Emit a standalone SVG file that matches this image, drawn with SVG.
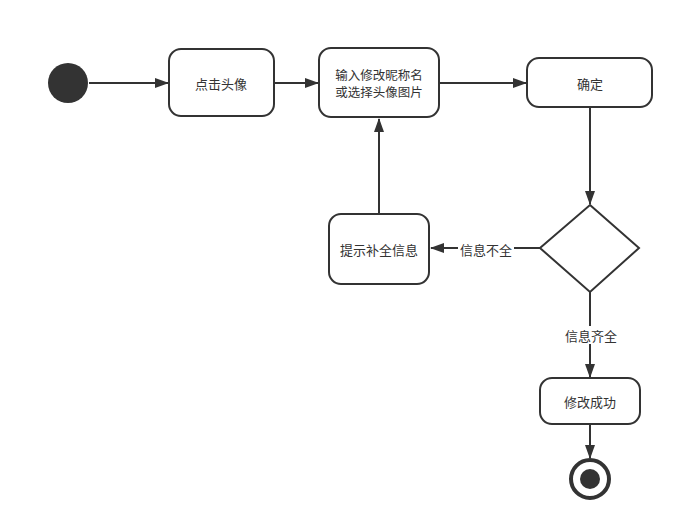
<svg xmlns="http://www.w3.org/2000/svg" width="684" height="530" viewBox="0 0 684 530">
<style>
.n{fill:#fff;stroke:#333;stroke-width:2}
.t{font-family:"Noto Sans CJK SC","Liberation Sans",sans-serif;font-size:13px;fill:#333;text-anchor:middle;dominant-baseline:central}
.c{stroke:#333;stroke-width:2;fill:none;marker-end:url(#a)}
</style>
<defs><marker id="a" markerWidth="14" markerHeight="10" refX="13" refY="5" orient="auto" markerUnits="userSpaceOnUse"><path d="M0,0L14,5L0,10z" fill="#333"/></marker></defs>
<rect width="684" height="530" fill="#fff"/>
<g id="connectors">
<path class="c" d="M89,83H168"/>
<path class="c" d="M275,83H318"/>
<path class="c" d="M440,83H526"/>
<path class="c" d="M590,107V204"/>
<path class="c" d="M540,248H431"/>
<path class="c" d="M379,214V119"/>
<path class="c" d="M590,292V377"/>
<path class="c" d="M590,424V458"/>
<rect x="458" y="240" width="56" height="18" fill="#fff"/>
<text class="t" x="486" y="249">信息不全</text>
<rect x="562" y="326" width="58" height="18" fill="#fff"/>
<text class="t" x="591" y="335">信息齐全</text>
</g>
<g id="start"><circle cx="68" cy="83" r="20" fill="#333"/></g>
<g id="n1"><rect class="n" x="169" y="49" width="105" height="67" rx="12"/><text class="t" x="221" y="83">点击头像</text></g>
<g id="n2"><rect class="n" x="319" y="48" width="120" height="69" rx="12"/><text class="t" x="379" y="74" style="font-size:12.5px">输入修改昵称名</text><text class="t" x="379" y="91" style="font-size:12.5px">或选择头像图片</text></g>
<g id="n3"><rect class="n" x="527" y="58" width="125" height="49" rx="12"/><text class="t" x="590" y="83">确定</text></g>
<g id="d"><path class="n" d="M590,205L639,248L590,292L540,248z"/></g>
<g id="n4"><rect class="n" x="329" y="214" width="100" height="70" rx="12"/><text class="t" x="379" y="249">提示补全信息</text></g>
<g id="n5"><rect class="n" x="540" y="378" width="100" height="46" rx="12"/><text class="t" x="590" y="401">修改成功</text></g>
<g id="end"><circle cx="590" cy="479" r="19" fill="#fff" stroke="#333" stroke-width="4"/><circle cx="590" cy="479" r="10" fill="#333"/></g>
</svg>
